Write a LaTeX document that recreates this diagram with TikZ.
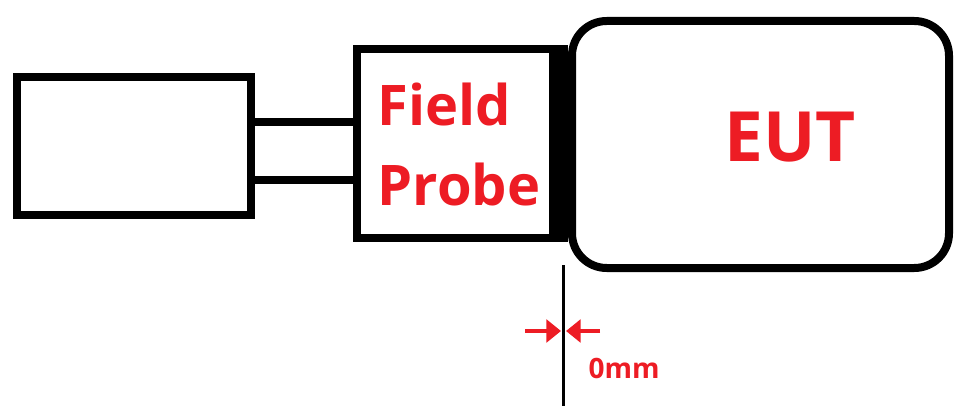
\documentclass[tikz,border=0pt]{standalone}
\usepackage{fontspec}
\setmainfont{Open Sans}
\usetikzlibrary{arrows.meta,positioning}
\definecolor{probered}{RGB}{237,28,36}

\begin{document}
\begin{tikzpicture}[x=0.75pt,y=-0.75pt,
                    box/.style={draw, line width=6pt, inner sep=0pt},
                    lbl/.style={text=probered, font=\bfseries},
                    gap/.style={draw=probered, line width=3pt, -{Triangle[length=11pt,width=17pt]}}]
                    \useasboundingbox (0,0) rectangle (957,406);
                    \node (meter) [box, minimum width=175.5pt, minimum height=103.5pt] at (134,146) {};
                    \node (probe) [box, minimum width=147pt, minimum height=141.75pt] at (455,143.5) {};
                    \node (probelbl) [lbl, align=left, font=\bfseries\fontsize{42}{60}\selectfont] at (459,145) {Field\\Probe};
                    \node (eut) [box, rounded corners=26pt, minimum width=282.75pt, minimum height=185.25pt] at (760.5,144.5) {};
                    \node (eutlbl) [lbl, font=\bfseries\fontsize{52}{60}\selectfont] at (790,137) {EUT};
                    \coordinate (gaptop) at (563,265);
                    \coordinate (gapbot) at (563,406);
                    \coordinate (arrl) at (525,331);
                    \coordinate (arrr) at (600,331);
                    \node (dist) [lbl, font=\bfseries\fontsize{21}{24}\selectfont] at (624,368) {0mm};
                    \draw [line width=6pt] (meter.east |- 0,122) -- (probe.west |- 0,122);
                    \draw [line width=6pt] (meter.east |- 0,180) -- (probe.west |- 0,180);
                    \fill (probe.north east) rectangle (eut.west |- probe.south);
                    \draw [line width=2.25pt] (gaptop) -- (gapbot);
                    \draw [gap] (arrl) -- (561,331);
                    \draw [gap] (arrr) -- (566,331);
                \end{tikzpicture}
\end{document}
